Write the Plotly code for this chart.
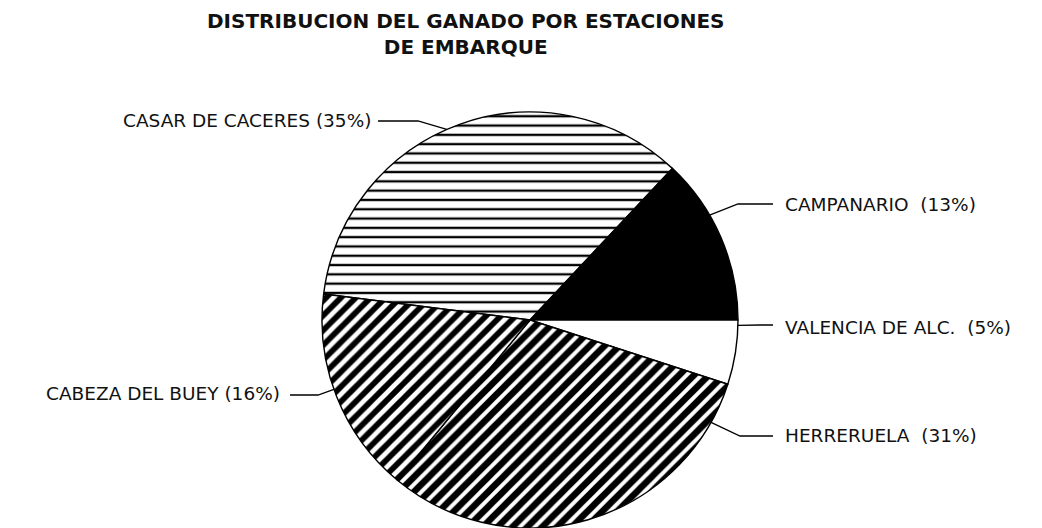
import math

import plotly.graph_objects as go

# Stations and their share of shipped cattle (%)
stations = ["CASAR DE CACERES", "CAMPANARIO", "VALENCIA DE ALC.", "HERRERUELA", "CABEZA DEL BUEY"]
shares = [35, 13, 5, 31, 16]
label_texts = [
    "CASAR DE CACERES (35%)",
    "CAMPANARIO\u00a0 (13%)",
    "VALENCIA DE ALC.\u00a0 (5%)",
    "HERRERUELA\u00a0 (31%)",
    "CABEZA DEL BUEY (16%)",
]

# Canvas and pie geometry (pixels)
W, H = 1042, 528
CX, CY, R = 530, 320, 208

# Fill styles per slice
fill_colors = ["white", "black", "white", "white", "white"]
pattern_shapes = ["-", "", "", "/", "/"]
pattern_sizes = [9.3, 8, 8, 10.5, 10.5]
pattern_solidity = [0.25, 0.3, 0.3, 0.62, 0.55]

# Leader-line layout: rim angle (deg, clockwise from 12 o'clock), elbow, end, text anchor
leaders = [
    dict(angle=336.4, elbow=(418, 121), end=(378, 121), text=(373, 121), align="right"),
    dict(angle=59.7, elbow=(738, 204), end=(773, 204), text=(783, 205), align="left"),
    dict(angle=91.5, elbow=(760, 325), end=(773, 325), text=(783, 327), align="left"),
    dict(angle=119.5, elbow=(740, 436), end=(773, 436), text=(783, 435), align="left"),
    dict(angle=250.5, elbow=(318, 395), end=(290, 395), text=(282, 393), align="right"),
]


def px(x, y):
    """Pixel position -> paper coordinates."""
    return x / W, 1 - y / H


# Campanario/Valencia boundary lies on the horizontal radius
rotation = 90 - 3.6 * (shares[0] + shares[1])

fig = go.Figure(
    go.Pie(
        labels=stations,
        values=shares,
        sort=False,
        direction="clockwise",
        rotation=rotation,
        textinfo="none",
        hoverinfo="label+percent",
        showlegend=False,
        domain=dict(x=[(CX - R) / W, (CX + R) / W], y=[1 - (CY + R) / H, 1 - (CY - R) / H]),
        marker=dict(
            colors=fill_colors,
            line=dict(color="black", width=1.4),
            pattern=dict(
                shape=pattern_shapes,
                size=pattern_sizes,
                solidity=pattern_solidity,
                fgcolor="black",
                bgcolor=fill_colors,
                fillmode="replace",
            ),
        ),
    )
)

shapes = []
annotations = []
for lead, txt in zip(leaders, label_texts):
    a = math.radians(lead["angle"])
    ax, ay = CX + R * math.sin(a), CY - R * math.cos(a)
    p0 = px(ax, ay)
    p1 = px(*lead["elbow"])
    p2 = px(*lead["end"])
    shapes.append(
        dict(
            type="path",
            xref="paper",
            yref="paper",
            path=f"M {p0[0]},{p0[1]} L {p1[0]},{p1[1]} L {p2[0]},{p2[1]}",
            line=dict(color="black", width=1.3),
        )
    )
    tx, ty = px(*lead["text"])
    annotations.append(
        dict(
            x=tx,
            y=ty,
            xref="paper",
            yref="paper",
            text=txt,
            showarrow=False,
            xanchor=lead["align"],
            yanchor="middle",
            font=dict(family="DejaVu Sans", size=18.5, color="#111"),
        )
    )

annotations.append(
    dict(
        x=465 / W,
        y=1 - 33.5 / H,
        xref="paper",
        yref="paper",
        text="<b>DISTRIBUCION DEL GANADO POR ESTACIONES<br>DE EMBARQUE</b>",
        showarrow=False,
        xanchor="center",
        yanchor="middle",
        align="center",
        font=dict(family="DejaVu Sans", size=20, color="#111"),
    )
)

fig.update_layout(
    width=W,
    height=H,
    autosize=False,
    margin=dict(l=0, r=0, t=0, b=0),
    paper_bgcolor="white",
    plot_bgcolor="white",
    shapes=shapes,
    annotations=annotations,
)

fig.write_html("out.html")
